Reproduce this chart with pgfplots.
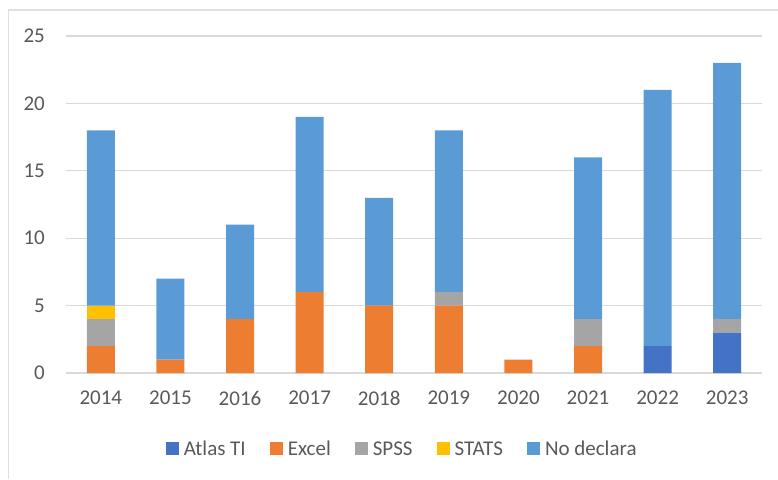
\documentclass[border=0pt]{standalone}
\usepackage{pgfplots}
\pgfplotsset{compat=1.18}
\usepackage{fontspec}
\setmainfont{Carlito}
\definecolor{atlas}{HTML}{4472C4}
\definecolor{excel}{HTML}{ED7D31}
\definecolor{spss}{HTML}{A5A5A5}
\definecolor{stats}{HTML}{FFC000}
\definecolor{nodecl}{HTML}{5B9BD5}
\definecolor{gridc}{HTML}{D9D9D9}
\definecolor{textc}{HTML}{595959}
\definecolor{framec}{HTML}{E0E0E0}
\begin{document}
\begin{tikzpicture}[x=1pt,y=1pt]
\useasboundingbox (0,0) rectangle (778,479);
\draw[color=framec, line width=1.2pt] (8.5,0) -- (8.5,469) -- (778,469);
\begin{axis}[
  at={(66pt,106pt)}, anchor=south west,
  scale only axis, width=696pt, height=337pt,
  xmin=-0.5, xmax=9.5, ymin=0, ymax=25,
  ybar stacked, bar width=28pt,
  xtick={0,...,9},
  xticklabels={2014,2015,2016,2017,2018,2019,2020,2021,2022,2023},
  ytick={0,5,...,25},
  ymajorgrids, grid style={color=gridc, line width=1.2pt},
  axis line style={draw=none},
  major tick length=0pt,
  tick label style={font=\fontsize{21}{25}\selectfont, text=textc},
  /pgf/number format/assume math mode=true,
  yticklabel style={inner sep=0pt, anchor=east, xshift=-21pt},
  xticklabel style={inner sep=0pt, anchor=north, yshift=-18pt},
  legend style={at={(0.483,-0.2255)}, anchor=center, draw=none, fill=none,
    legend columns=5, font=\fontsize{21}{25}\selectfont, text=textc,
    /tikz/every even column/.append style={column sep=22pt},
    /tikz/every odd column/.append style={column sep=0pt}},
  legend image code/.code={\fill[#1] (0pt,-6.5pt) rectangle (13pt,6.5pt); \path (16pt,0pt);},
  legend cell align=left,
]
\addplot[fill=atlas, draw=none] coordinates {(0,0) (1,0) (2,0) (3,0) (4,0) (5,0) (6,0) (7,0) (8,2) (9,3)};
\addplot[fill=excel, draw=none] coordinates {(0,2) (1,1) (2,4) (3,6) (4,5) (5,5) (6,1) (7,2) (8,0) (9,0)};
\addplot[fill=spss, draw=none] coordinates {(0,2) (1,0) (2,0) (3,0) (4,0) (5,1) (6,0) (7,2) (8,0) (9,1)};
\addplot[fill=stats, draw=none] coordinates {(0,1) (1,0) (2,0) (3,0) (4,0) (5,0) (6,0) (7,0) (8,0) (9,0)};
\addplot[fill=nodecl, draw=none] coordinates {(0,13) (1,6) (2,7) (3,13) (4,8) (5,12) (6,0) (7,12) (8,19) (9,19)};
\legend{Atlas TI,Excel,SPSS,STATS,No declara}
\end{axis}
\end{tikzpicture}
\end{document}
